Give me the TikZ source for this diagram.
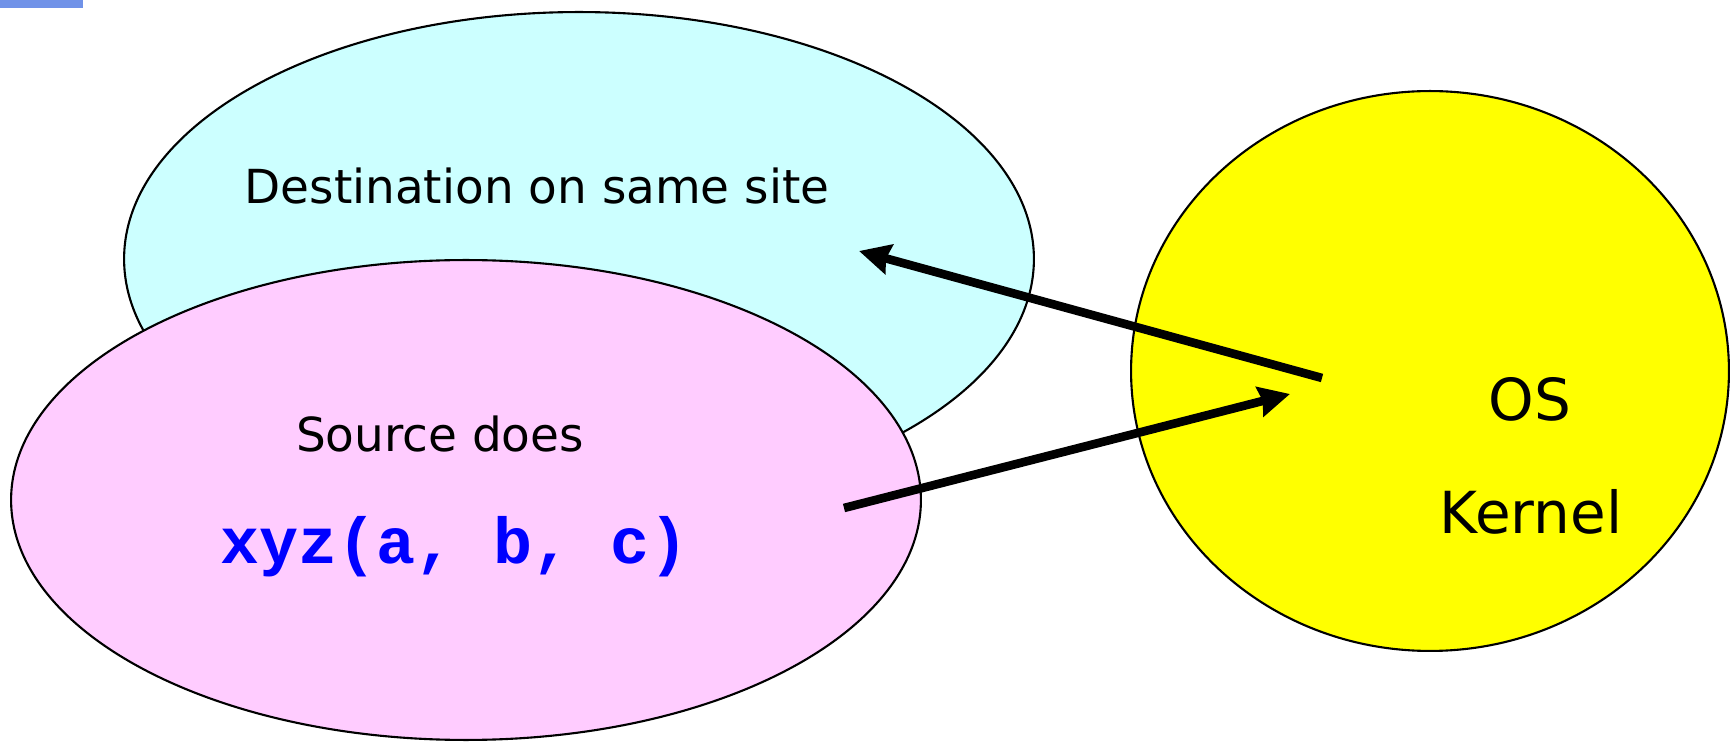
\documentclass[tikz,border=0pt]{standalone}
\usepackage{fontspec}
\setmainfont{DejaVu Sans}
\newfontfamily\codefont{Liberation Mono}
\usetikzlibrary{shapes.geometric,arrows.meta,positioning}
\definecolor{destcyan}{RGB}{204,255,255}
\definecolor{srcpink}{RGB}{255,204,255}
\definecolor{kernyellow}{RGB}{255,255,0}
\definecolor{codeblue}{RGB}{0,0,255}
\definecolor{slidebar}{RGB}{112,146,232}

\begin{document}
\begin{tikzpicture}[x=0.02cm, y=-0.02cm,
  blob/.style={ellipse, draw=black, line width=1.2pt, inner sep=0pt},
  txt/.style={anchor=base, inner sep=0pt, font=\fontsize{26.7}{32}\selectfont},
  msgarrow/.style={-{Stealth[length=6.2mm, width=6mm, inset=0.6mm]}, line width=4.9pt}]
  \useasboundingbox (0,0) rectangle (1730,742);
  \fill[slidebar] (0,0) rectangle (83,8);
  % the two processes on the same site
  \node[blob, fill=destcyan, minimum width=18.2cm, minimum height=9.88cm] (dest) at (579,259) {};
  \node[blob, fill=srcpink, minimum width=18.2cm, minimum height=9.6cm] (src) at (466,500) {};
  % the kernel
  \node[blob, fill=kernyellow, minimum width=11.96cm, minimum height=11.2cm] (kern) at (1430,371) {};
  % texts
  \node[txt] (desttxt) at (537,204) {Destination on same site};
  \node[txt] (srctxt) at (440,452) {Source does};
  \node[txt, font=\codefont\bfseries\fontsize{37}{42}\selectfont, text=codeblue] (calltxt) at (455,563) {xyz(a, b, c)};
  \node[txt, font=\fontsize{33}{38}\selectfont] (ostxt) at (1530,421) {OS};
  \node[txt, font=\fontsize{33}{38}\selectfont] (kerntxt) at (1531,534) {Kernel};
  % trap into the kernel, then up to the destination
  \coordinate (trapout) at (844,508);
  \coordinate (trapin) at (1290,394);
  \coordinate (upout) at (1322,378);
  \coordinate (upin) at (859,251);
  \draw[msgarrow] (trapout) -- (trapin);
  \draw[msgarrow] (upout) -- (upin);
\end{tikzpicture}
\end{document}
